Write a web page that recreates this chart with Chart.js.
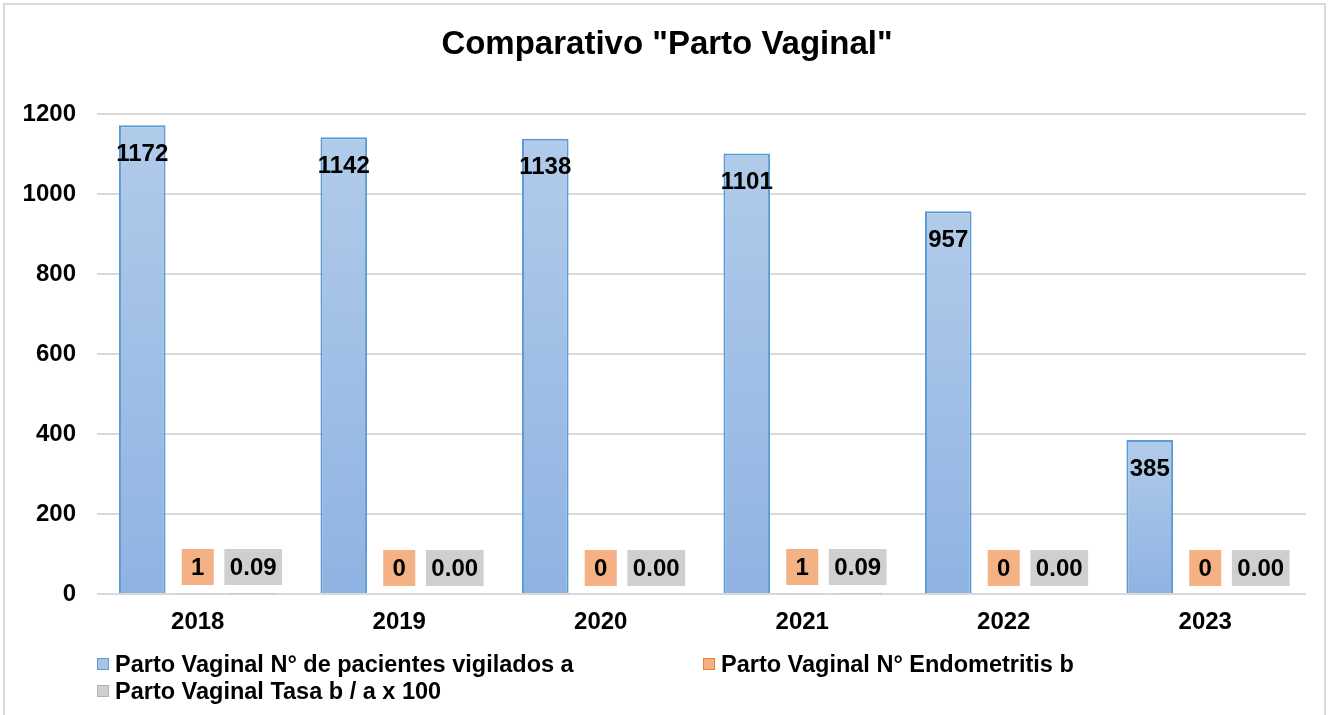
<!DOCTYPE html>
<html>
<head>
<meta charset="utf-8">
<script src="https://cdn.jsdelivr.net/npm/chart.js@4/dist/chart.umd.min.js"></script>
<style>
  html, body { margin: 0; padding: 0; background: #fff; }
  #wrap { position: relative; width: 1331px; height: 715px; overflow: hidden; font-family: "Liberation Sans", Arial, sans-serif; }
  #frame { position: absolute; left: 3px; top: 3px; width: 1323px; height: 720px; border: 2px solid #d9d9d9; box-sizing: border-box; }
  canvas { position: absolute; left: 0; top: 0; }
  .leg { position: absolute; display: flex; align-items: center; font-weight: bold; font-size: 23.5px; color: #000; white-space: nowrap; }
  .leg span.box { width: 10px; height: 10px; border: 1.5px solid; margin-right: 6px; flex: none; }
</style>
</head>
<body>
<div id="wrap">
  <div id="frame"></div>
  <canvas id="c" width="1331" height="715"></canvas>
</div>
<script>
const YEARS = ["2018", "2019", "2020", "2021", "2022", "2023"];
const PACIENTES = [1172, 1142, 1138, 1101, 957, 385];
const ENDOMETRITIS = [1, 0, 0, 1, 0, 0];
const TASA = [0.09, 0.00, 0.00, 0.09, 0.00, 0.00];
const SERIES_NAMES = [
  "Parto Vaginal N° de pacientes vigilados a",
  "Parto Vaginal N° Endometritis b",
  "Parto Vaginal Tasa b / a x 100",
];
const Y_TICKS = [0, 200, 400, 600, 800, 1000, 1200];

const BLUE_LINE = "#5b9bd5";
const ORANGE = "#f4b183";
const ORANGE_LINE = "#ed7d31";
const GRAY = "#d0cece";
const GRAY_LINE = "#b4b4b4";
const FONT = "'Liberation Sans', Arial, sans-serif";

// per-bar vertical gradient like the Excel fill
function blueFill(ctx) {
  const chart = ctx.chart;
  if (!chart.chartArea || ctx.raw === undefined) return "#a9c4e6";
  const y = chart.scales.y;
  const top = y.getPixelForValue(ctx.raw);
  const bottom = y.getPixelForValue(0);
  const g = chart.ctx.createLinearGradient(0, top, 0, bottom);
  g.addColorStop(0, "#b1cbea");
  g.addColorStop(1, "#8fb3e2");
  return g;
}

// value labels: plain over the blue bars, boxed for the two small series
const valueLabels = {
  id: "valueLabels",
  afterDatasetsDraw(chart) {
    const c = chart.ctx;
    c.save();
    c.font = "bold 24px " + FONT;
    c.textAlign = "center";
    c.textBaseline = "middle";
    chart.data.datasets.forEach((ds, i) => {
      const meta = chart.getDatasetMeta(i);
      meta.data.forEach((bar, j) => {
        const v = ds.data[j];
        if (i === 0) {
          c.fillStyle = "#000";
          c.fillText(String(v), bar.x, bar.y + 29);
          return;
        }
        const txt = i === 2 ? v.toFixed(2) : String(v);
        const w = Math.max(c.measureText(txt).width + 11, 32);
        const cy = bar.base - 26;
        c.fillStyle = i === 1 ? ORANGE : GRAY;
        c.fillRect(bar.x - w / 2, cy - 18, w, 36);
        c.fillStyle = "#000";
        c.fillText(txt, bar.x, cy + 1);
      });
    });
    c.restore();
  },
};

const chart = new Chart(document.getElementById("c").getContext("2d"), {
  type: "bar",
  data: {
    labels: YEARS,
    datasets: [
      { label: SERIES_NAMES[0], data: PACIENTES, backgroundColor: blueFill, borderColor: BLUE_LINE, borderWidth: 2 },
      { label: SERIES_NAMES[1], data: ENDOMETRITIS, backgroundColor: ORANGE, borderColor: ORANGE_LINE, borderWidth: 1 },
      { label: SERIES_NAMES[2], data: TASA, backgroundColor: GRAY, borderColor: GRAY_LINE, borderWidth: 1 },
    ],
  },
  options: {
    responsive: false,
    animation: false,
    // left/right padding chosen so the title centres where Excel put it
    layout: { padding: { left: 3, right: 0, top: 0, bottom: 76 } },
    datasets: { bar: { categoryPercentage: 0.826, barPercentage: 0.84 } },
    plugins: {
      legend: { display: false },
      tooltip: { enabled: false },
      title: {
        display: true,
        text: 'Comparativo "Parto Vaginal"',
        color: "#000",
        font: { family: FONT, size: 33, weight: "bold" },
        padding: { top: 25, bottom: 49.4 },
      },
    },
    scales: {
      x: {
        grid: { display: false, drawTicks: false },
        border: { display: false },
        ticks: { color: "#000", padding: 14, font: { family: FONT, size: 24, weight: "bold" } },
        afterFit: (s) => { s.height = 45; },
      },
      y: {
        min: 0,
        max: 1200,
        afterBuildTicks: (s) => { s.ticks = Y_TICKS.map((v) => ({ value: v })); },
        grid: { color: "#d9d9d9", lineWidth: 2, drawTicks: false },
        border: { display: false },
        ticks: {
          color: "#000",
          padding: 21,
          font: { family: FONT, size: 24, weight: "bold" },
          callback: (v) => String(v),
        },
        afterFit: (s) => { s.width = 94; },
      },
      // empty spacer on the right, keeps the plot edge at Excel's position
      yRight: {
        position: "right",
        display: true,
        grid: { display: false, drawTicks: false },
        border: { display: false },
        ticks: { display: false },
        afterFit: (s) => { s.width = 25; },
      },
    },
  },
  plugins: [valueLabels],
});

// legend laid out in Excel's two-column grid
const LEGEND_POS = [[97, 664], [703, 664], [97, 691]];
const LEGEND_COLORS = [["#a9c4e6", BLUE_LINE], [ORANGE, ORANGE_LINE], [GRAY, GRAY_LINE]];
SERIES_NAMES.forEach((name, i) => {
  const d = document.createElement("div");
  d.className = "leg";
  d.style.left = LEGEND_POS[i][0] + "px";
  d.style.top = (LEGEND_POS[i][1] - 13) + "px";
  d.style.height = "26px";
  const b = document.createElement("span");
  b.className = "box";
  b.style.background = LEGEND_COLORS[i][0];
  b.style.borderColor = LEGEND_COLORS[i][1];
  d.appendChild(b);
  d.appendChild(document.createTextNode(name));
  document.getElementById("wrap").appendChild(d);
});
</script>
</body>
</html>
